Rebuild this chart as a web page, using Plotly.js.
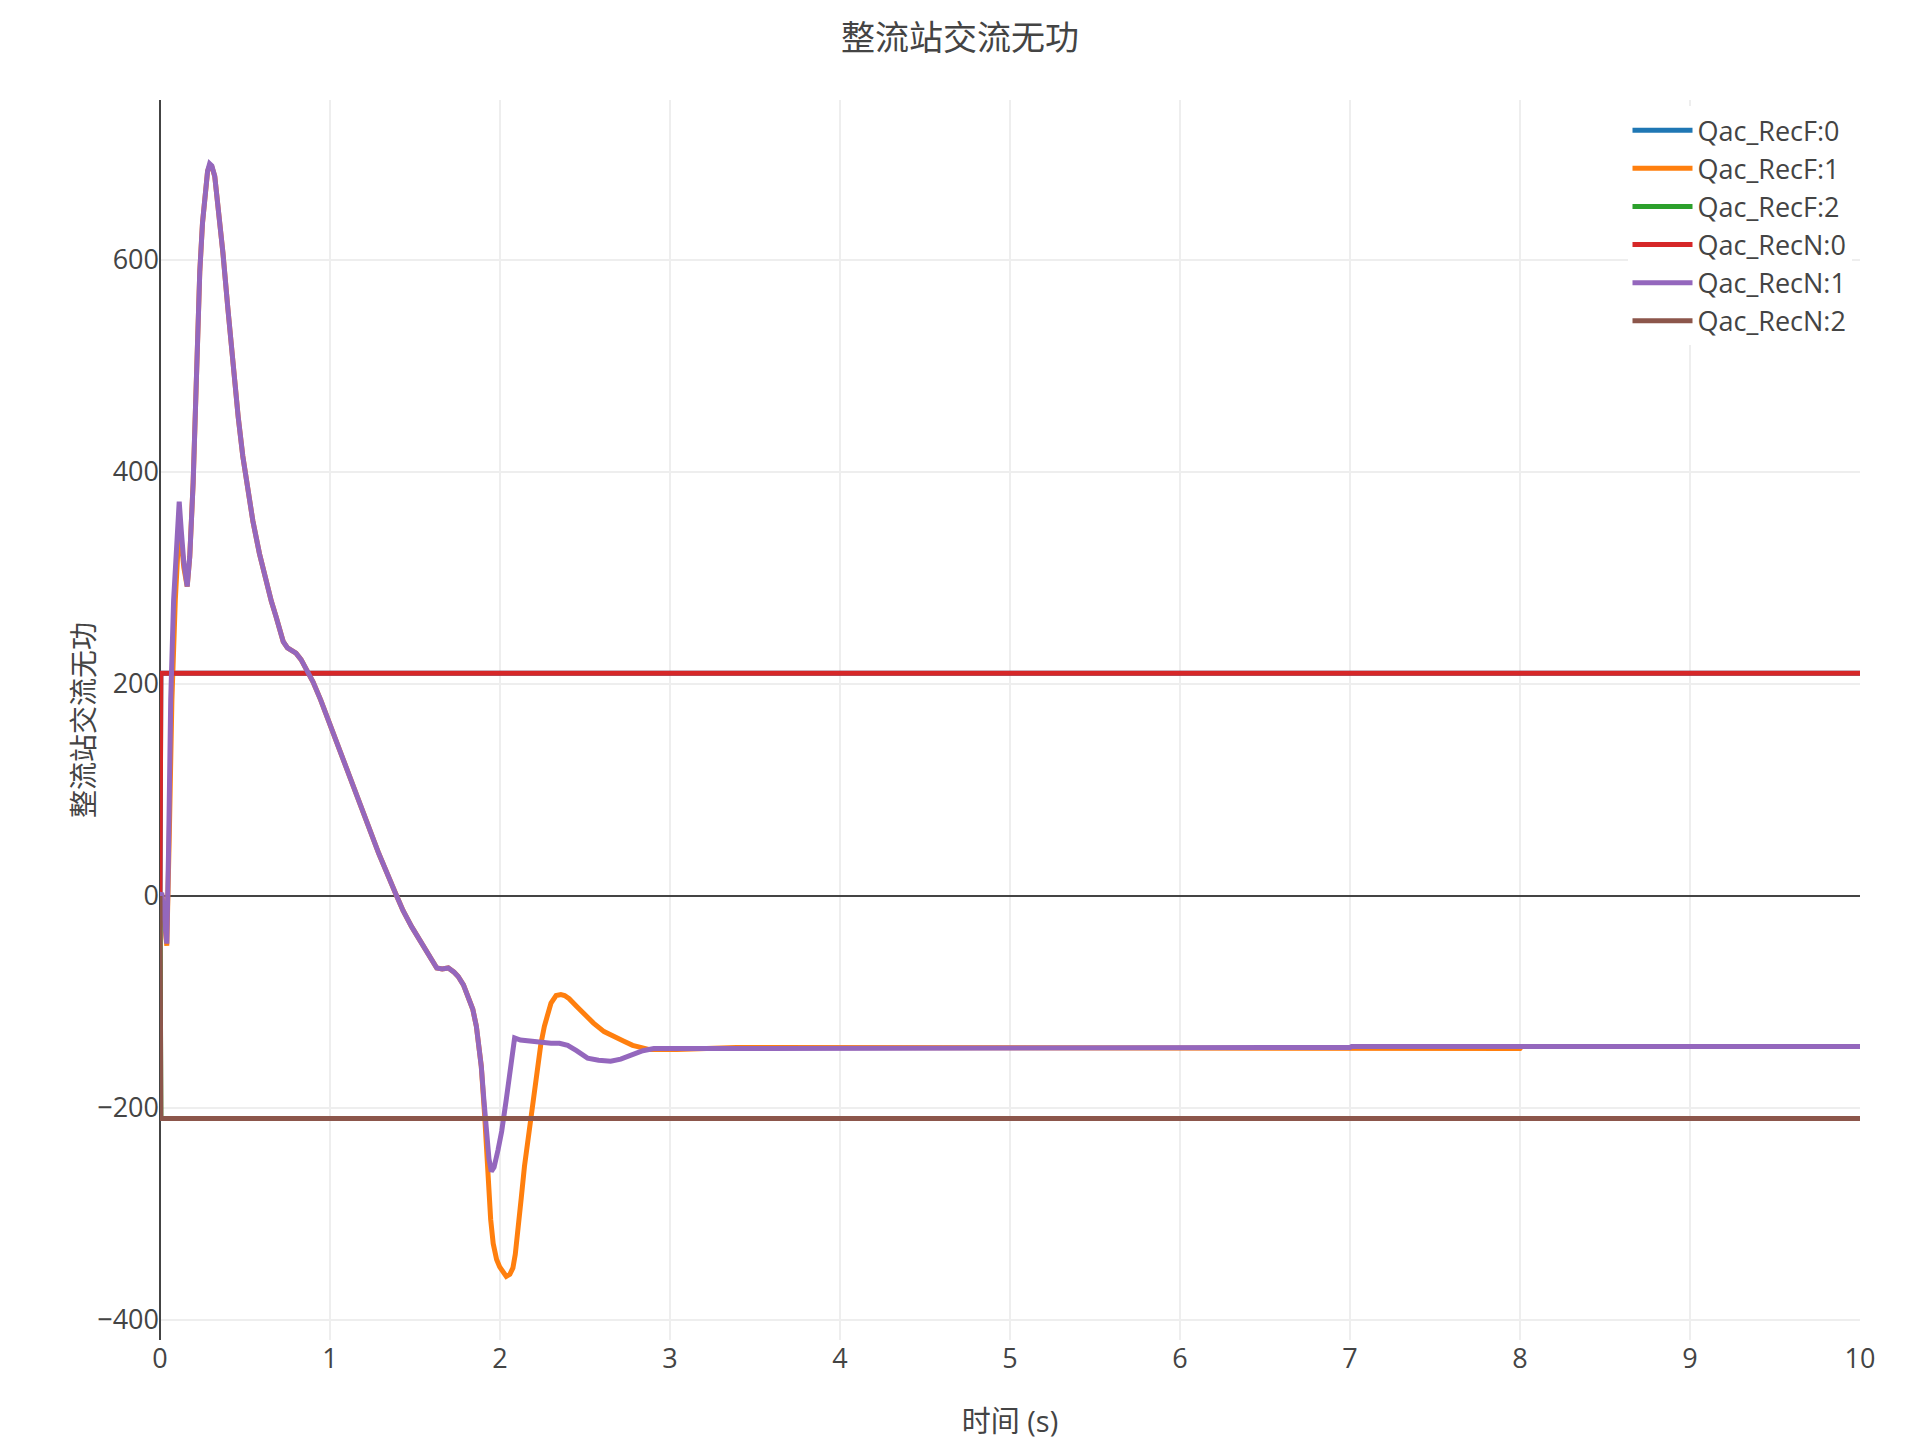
<!DOCTYPE html>
<html>
<head>
<meta charset="utf-8">
<script src="https://cdn.plot.ly/plotly-3.0.1.min.js"></script>
<style>
  html, body { margin: 0; padding: 0; background: #fff; }
  #chart { width: 1920px; height: 1440px; }
</style>
</head>
<body>
<div id="chart"></div>
<script>
// trace names, same order as the legend
var names = ['Qac_RecF:0', 'Qac_RecF:1', 'Qac_RecF:2', 'Qac_RecN:0', 'Qac_RecN:1', 'Qac_RecN:2'];
var colors = ['#1f77b4', '#ff7f0e', '#2ca02c', '#d62728', '#9467bd', '#8c564b'];

// flat traces: step at start, then constant
var t_step = [0, 0.005, 10];
var q_recF0 = [0, 210, 210];
var q_recF2 = [0, -210, -210];
var q_recN0 = [0, 210, 210];
var q_recN2 = [0, -210, -210];

// Qac_RecN:1 (purple)
var t_recN1 = [0, 0.01, 0.025, 0.04, 0.05, 0.063, 0.08, 0.1, 0.113, 0.125, 0.14, 0.16, 0.175,
  0.195, 0.21, 0.234, 0.25, 0.263, 0.28, 0.292, 0.305, 0.322, 0.345, 0.37, 0.40, 0.429,
  0.46, 0.487, 0.515, 0.546, 0.585, 0.624, 0.655, 0.682, 0.705, 0.725, 0.75, 0.775, 0.80,
  0.83, 0.858, 0.90, 0.945, 1.0, 1.053, 1.152, 1.22, 1.287, 1.384, 1.43, 1.48, 1.55, 1.60,
  1.628, 1.66, 1.696, 1.73, 1.754, 1.785, 1.813, 1.84, 1.861, 1.875, 1.89, 1.905, 1.92,
  1.935, 1.949, 1.965, 1.988, 2.01, 2.037, 2.06, 2.086, 2.12, 2.164, 2.23, 2.30, 2.35,
  2.398, 2.45, 2.515, 2.58, 2.651, 2.71, 2.768, 2.84, 2.905, 3.04, 3.39, 7.0, 7.01, 10];
var q_recN1 = [0, 3, -20, -45, 40, 185, 279, 340, 372, 345, 315, 292, 320,
  390, 470, 589, 635, 661, 684, 691, 689, 679, 648, 607, 553, 498,
  452, 415, 383, 354, 323, 296, 278, 264, 251, 240, 234, 232, 229,
  223, 215, 202, 185, 162, 137, 96, 68, 40, 3, -14, -29, -48, -61,
  -68, -69, -68, -72, -76, -84, -95, -107, -123, -138, -161, -192, -224,
  -248, -260, -256, -240, -222, -192, -160, -134, -136, -137, -138, -139, -139,
  -141, -146, -153, -155, -156, -154, -150, -146, -144, -144, -143, -143, -142, -142];

// Qac_RecF:1 (orange)
var t_recF1 = [0, 0.01, 0.025, 0.04, 0.055, 0.07, 0.09, 0.113, 0.125, 0.14, 0.16, 0.175,
  0.195, 0.21, 0.234, 0.25, 0.263, 0.28, 0.292, 0.305, 0.322, 0.345, 0.37, 0.40, 0.429,
  0.46, 0.487, 0.515, 0.546, 0.585, 0.624, 0.655, 0.682, 0.705, 0.725, 0.75, 0.775, 0.80,
  0.83, 0.858, 0.90, 0.945, 1.0, 1.053, 1.152, 1.22, 1.287, 1.384, 1.43, 1.48, 1.55, 1.60,
  1.628, 1.66, 1.696, 1.73, 1.754, 1.785, 1.813, 1.84, 1.861, 1.875, 1.89, 1.91, 1.93,
  1.945, 1.96, 1.98, 1.998, 2.02, 2.037, 2.058, 2.076, 2.09, 2.105, 2.125, 2.144, 2.165,
  2.183, 2.20, 2.222, 2.24, 2.261, 2.28, 2.30, 2.33, 2.358, 2.38, 2.407, 2.45, 2.495, 2.55,
  2.612, 2.67, 2.729, 2.78, 2.826, 2.88, 2.943, 3.04, 3.39, 7.0, 8.0, 8.01, 10];
var q_recF1 = [0, 2, -22, -47, 60, 185, 279, 350, 335, 310, 292, 320,
  390, 470, 589, 635, 661, 684, 689, 688, 679, 648, 607, 553, 498,
  452, 415, 383, 354, 323, 296, 278, 264, 251, 240, 234, 232, 229,
  223, 215, 202, 185, 162, 137, 96, 68, 40, 3, -14, -29, -48, -61,
  -68, -69, -68, -72, -76, -84, -95, -107, -123, -138, -161, -208, -271,
  -305, -328, -343, -350, -356, -359, -357, -351, -338, -318, -285, -255, -228,
  -205, -183, -161, -140, -123, -110, -101, -94, -93, -94, -97, -104, -111, -120,
  -128, -133, -137, -141, -143, -145, -145, -145, -143, -144, -144, -142, -142];

var xs = [t_step, t_recF1, t_step, t_step, t_recN1, t_step];
var ys = [q_recF0, q_recF1, q_recF2, q_recN0, q_recN1, q_recN2];

var data = names.map(function(n, i) {
  return {
    type: 'scatter',
    mode: 'lines',
    name: n,
    x: xs[i],
    y: ys[i],
    line: { color: colors[i], width: 5 }
  };
});

var layout = {
  width: 1920,
  height: 1440,
  margin: { l: 160, r: 60, t: 100, b: 100 },
  paper_bgcolor: 'white',
  plot_bgcolor: 'white',
  font: { family: '"Open Sans", "Noto Sans CJK SC", verdana, arial, sans-serif', size: 27, color: '#444' },
  title: { text: '整流站交流无功', font: { size: 34 } },
  showlegend: true,
  legend: { x: 0.995, xanchor: 'right', y: 0.995, yanchor: 'top', bgcolor: 'white', itemwidth: 60, font: { size: 27 } },
  xaxis: {
    title: { text: '时间 (s)', font: { size: 29 } },
    range: [0, 10],
    dtick: 1,
    showgrid: true, gridcolor: '#eee', gridwidth: 2,
    zeroline: true, zerolinecolor: '#444', zerolinewidth: 2
  },
  yaxis: {
    title: { text: '整流站交流无功', font: { size: 28 } },
    range: [-419, 751],
    dtick: 200,
    showgrid: true, gridcolor: '#eee', gridwidth: 2,
    zeroline: true, zerolinecolor: '#444', zerolinewidth: 2
  }
};

Plotly.newPlot('chart', data, layout, { displayModeBar: false });
</script>
</body>
</html>
